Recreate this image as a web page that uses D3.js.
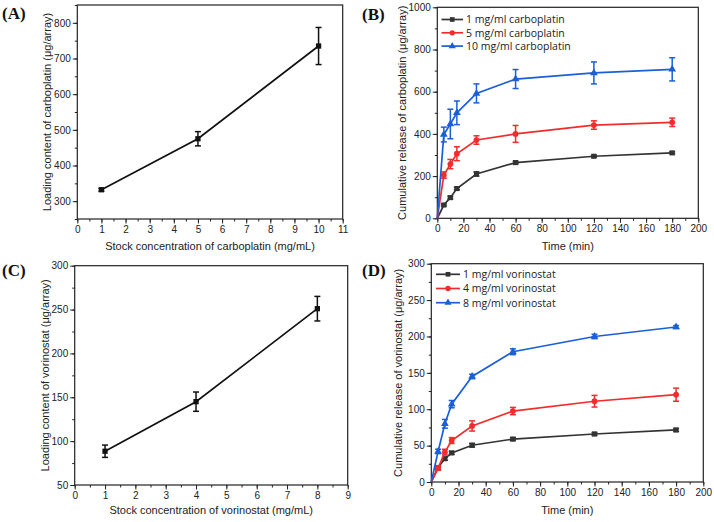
<!DOCTYPE html>
<html><head><meta charset="utf-8">
<script src="https://cdn.jsdelivr.net/npm/d3@7"></script>
<style>
body{margin:0;background:#fff;}
svg{display:block;}
.tick text{font-family:"Liberation Sans",Arial,sans-serif;font-size:10px;fill:#222;}
</style></head><body>
<svg id="c" width="714" height="522"></svg>
<script>
// ---------- DATA ----------
const aConc = [1, 5, 10];
const aLoad = [332, 475, 735];
const aErr  = [4, 20, 52];

const cConc = [1, 4, 8];
const cLoad = [88.5, 145, 251];
const cErr  = [7, 11, 14];

const timeMin = [0, 5, 10, 15, 30, 60, 120, 180];

const bNames = ["1 mg/ml carboplatin", "5 mg/ml carboplatin", "10 mg/ml carboplatin"];
const b1 = [0, 63, 98, 141, 210, 264, 294, 310];
const b1e = [0, 5, 6, 6, 10, 6, 5, 5];
const b5 = [0, 205, 257, 306, 371, 400, 442, 455];
const b5e = [0, 15, 22, 33, 20, 40, 20, 20];
const b10 = [0, 397, 447, 500, 592, 660, 689, 706];
const b10e = [0, 35, 70, 56, 45, 45, 52, 55];

const dNames = ["1 mg/ml vorinostat", "4 mg/ml vorinostat", "8 mg/ml vorinostat"];
const d1 = [0, 20, 32, 40, 50.5, 59, 66, 71.5];
const d1e = [0, 2, 2, 2, 2.5, 2, 2, 2];
const d4 = [0, 19, 41, 57, 77, 97.5, 111, 120];
const d4e = [0, 3, 4, 4, 7, 5, 8, 9];
const d8 = [0, 42, 80, 107, 145, 179, 200, 213];
const d8e = [0, 3, 6, 5, 3, 4, 3, 2];

const colors = ["#333333", "#f22c2c", "#1b5fd8"];
const symbols = [d3.symbolSquare, d3.symbolCircle, d3.symbolTriangle];

// ---------- DRAW ----------
const svg = d3.select("#c");
const FONT = '"Liberation Sans",Arial,sans-serif';

function panel(cfg) {
  const g = svg.append("g");
  const x = d3.scaleLinear().domain(cfg.xd).range([cfg.l, cfg.r]);
  const y = d3.scaleLinear().domain(cfg.yd).range([cfg.b, cfg.t]);
  // minor ticks
  const xMinor = d3.range(cfg.xd[0], cfg.xd[1] + 1e-9, cfg.xm);
  const yMinor = d3.range(cfg.yd[0], cfg.yd[1] + 1e-9, cfg.ym);
  g.append("g").attr("transform", `translate(0,${cfg.b})`)
    .call(d3.axisBottom(x).tickValues(xMinor).tickSize(2.5).tickFormat(""))
    .call(a => a.select(".domain").remove())
    .selectAll("line").attr("stroke", "#222");
  g.append("g").attr("transform", `translate(${cfg.l},0)`)
    .call(d3.axisLeft(y).tickValues(yMinor).tickSize(2.5).tickFormat(""))
    .call(a => a.select(".domain").remove())
    .selectAll("line").attr("stroke", "#222");
  // major
  const xa = g.append("g").attr("transform", `translate(0,${cfg.b})`)
    .call(d3.axisBottom(x).tickValues(cfg.xt).tickSize(4.5).tickPadding(2).tickFormat(d3.format("d")));
  xa.select(".domain").remove();
  xa.selectAll("line").attr("stroke", "#222");
  const ya = g.append("g").attr("transform", `translate(${cfg.l},0)`)
    .call(d3.axisLeft(y).tickValues(cfg.yt).tickSize(4.5).tickPadding(2).tickFormat(d3.format("d")));
  ya.select(".domain").remove();
  ya.selectAll("line").attr("stroke", "#222");
  // frame
  g.append("rect").attr("x", cfg.l).attr("y", cfg.t).attr("width", cfg.r - cfg.l).attr("height", cfg.b - cfg.t)
    .attr("fill", "none").attr("stroke", "#222").attr("stroke-width", 1.2);
  // titles
  g.append("text").attr("x", (cfg.l + cfg.r) / 2).attr("y", cfg.xTitleY).attr("text-anchor", "middle")
    .attr("font-family", FONT).attr("font-size", 11).attr("fill", "#222").text(cfg.xTitle);
  g.append("text").attr("transform", `translate(${cfg.yTitleX},${(cfg.t + cfg.b) / 2}) rotate(-90)`)
    .attr("text-anchor", "middle").attr("font-family", FONT).attr("font-size", 11).attr("fill", "#222").text(cfg.yTitle);
  g.append("text").attr("x", cfg.labX).attr("y", cfg.labY).attr("font-family", '"Liberation Serif","Times New Roman",serif')
    .attr("font-weight", "bold").attr("font-size", 17).attr("fill", "#111").text(cfg.label);
  // series
  const line = d3.line().x(d => x(d[0])).y(d => y(d[1]));
  cfg.series.forEach((s, i) => {
    const pts = s.xs.map((v, k) => [v, s.ys[k], s.es[k]]);
    const col = s.color;
    g.append("path").datum(pts).attr("d", line).attr("fill", "none").attr("stroke", col).attr("stroke-width", 1.7);
    const eb = g.append("g").attr("stroke", col).attr("stroke-width", 1.5);
    pts.filter(p => p[2] > 0).forEach(p => {
      const cx = x(p[0]);
      eb.append("line").attr("x1", cx).attr("x2", cx).attr("y1", y(p[1] - p[2])).attr("y2", y(p[1] + p[2]));
      [p[1] - p[2], p[1] + p[2]].forEach(v => {
        eb.append("line").attr("x1", cx - 3).attr("x2", cx + 3).attr("y1", y(v)).attr("y2", y(v));
      });
    });
    g.append("g").selectAll("path").data(pts.filter(p => p[0] > 0 || !cfg.skipZero)).join("path")
      .attr("transform", p => `translate(${x(p[0])},${y(p[1])})`)
      .attr("d", d3.symbol().type(s.symbol).size(s.size || 26)).attr("fill", col);
  });
  // legend
  if (cfg.legend) {
    cfg.legend.names.forEach((n, i) => {
      const yy = cfg.legend.y0 + i * cfg.legend.dy;
      const c = cfg.series[i].color;
      g.append("line").attr("x1", cfg.legend.x0).attr("x2", cfg.legend.x1).attr("y1", yy).attr("y2", yy)
        .attr("stroke", c).attr("stroke-width", 1.7);
      g.append("path").attr("transform", `translate(${(cfg.legend.x0 + cfg.legend.x1) / 2},${yy})`)
        .attr("d", d3.symbol().type(cfg.series[i].symbol).size(22)).attr("fill", c);
      g.append("text").attr("x", cfg.legend.x1 + 3).attr("y", yy + 3.8).attr("font-family", '"Open Sans","Noto Sans",sans-serif')
        .attr("font-size", 10.5).attr("fill", "#222").text(n);
    });
  }
}

panel({
  l: 77.3, r: 342.7, t: 5, b: 219, xd: [0, 11], yd: [250, 850],
  xt: d3.range(0, 12, 1), xm: 0.5, yt: [300, 400, 500, 600, 700, 800], ym: 50,
  xTitle: "Stock concentration of carboplatin (mg/mL)", xTitleY: 250,
  yTitle: "Loading content of carboplatin (μg/array)", yTitleX: 51,
  label: "(A)", labX: 2, labY: 19,
  series: [{ xs: aConc, ys: aLoad, es: aErr, color: "#111", symbol: d3.symbolSquare, size: 28 }]
});

panel({
  l: 437.3, r: 698.3, t: 7.3, b: 218.3, xd: [0, 200], yd: [0, 1000],
  xt: d3.range(0, 201, 20), xm: 10, yt: d3.range(0, 1001, 200), ym: 100,
  xTitle: "Time (min)", xTitleY: 250,
  yTitle: "Cumulative release of carboplatin (μg/array)", yTitleX: 406,
  label: "(B)", labX: 362, labY: 20, skipZero: true,
  series: [
    { xs: timeMin, ys: b1, es: b1e, color: colors[0], symbol: symbols[0] },
    { xs: timeMin, ys: b5, es: b5e, color: colors[1], symbol: symbols[1] },
    { xs: timeMin, ys: b10, es: b10e, color: colors[2], symbol: symbols[2] }
  ],
  legend: { names: bNames, x0: 441.5, x1: 463, y0: 19.5, dy: 13.3 }
});

panel({
  l: 74.7, r: 347.7, t: 265.7, b: 485, xd: [0, 9], yd: [50, 300],
  xt: d3.range(0, 10, 1), xm: 0.5, yt: d3.range(50, 301, 50), ym: 25,
  xTitle: "Stock concentration of vorinostat (mg/mL)", xTitleY: 514,
  yTitle: "Loading content of vorinostat (μg/array)", yTitleX: 49,
  label: "(C)", labX: 2, labY: 276,
  series: [{ xs: cConc, ys: cLoad, es: cErr, color: "#111", symbol: d3.symbolSquare, size: 28 }]
});

panel({
  l: 431.3, r: 703.3, t: 263.7, b: 482, xd: [0, 200], yd: [0, 300],
  xt: d3.range(0, 201, 20), xm: 10, yt: d3.range(0, 301, 50), ym: 25,
  xTitle: "Time (min)", xTitleY: 514,
  yTitle: "Cumulative release of vorinostat (μg/array)", yTitleX: 402,
  label: "(D)", labX: 362, labY: 276, skipZero: true,
  series: [
    { xs: timeMin, ys: d1, es: d1e, color: colors[0], symbol: symbols[0] },
    { xs: timeMin, ys: d4, es: d4e, color: colors[1], symbol: symbols[1] },
    { xs: timeMin, ys: d8, es: d8e, color: colors[2], symbol: symbols[2] }
  ],
  legend: { names: dNames, x0: 436, x1: 460, y0: 274.3, dy: 14.2 }
});
</script>
</body></html>
